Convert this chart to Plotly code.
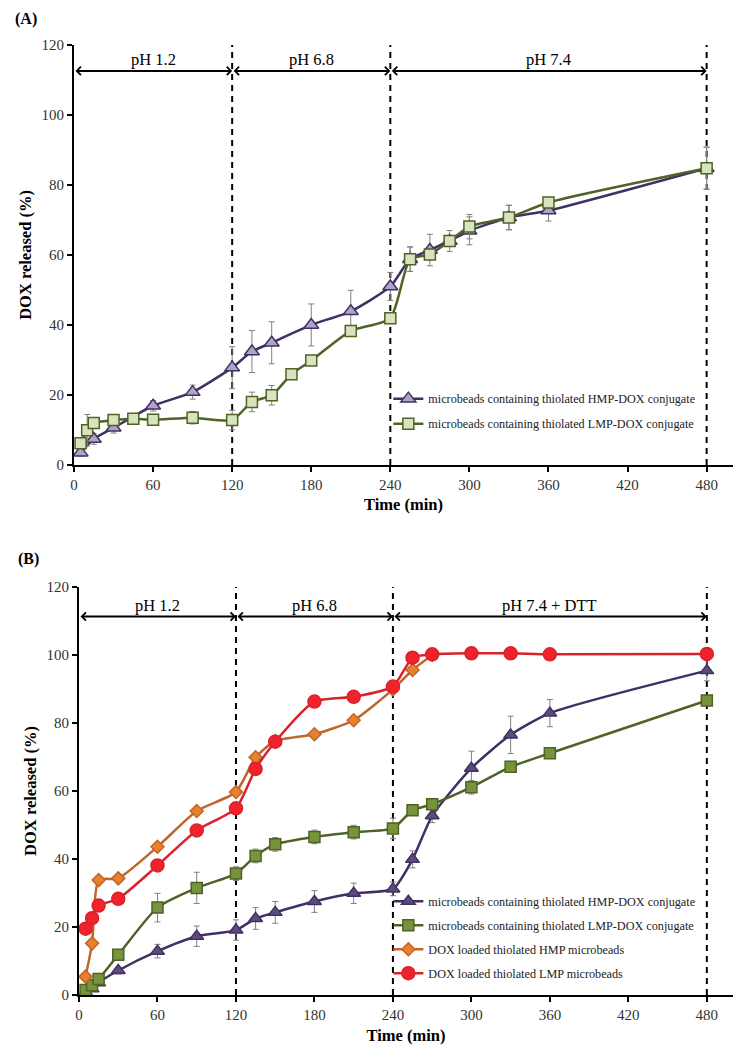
import plotly.graph_objects as go

# ---------------- data ----------------
# Panel A
t_A_hmp = [5, 15, 30, 60, 90, 120, 135, 150, 180, 210, 240, 255, 270, 285, 300, 330, 360, 480]
A_hmp = [3.5, 7.4, 10.6, 16.9, 20.8, 27.8, 32.4, 34.9, 40.0, 43.9, 51.0, 58.8, 61.4, 64.0, 66.9, 70.7, 72.7, 84.8]
A_hmp_err = [1, 1.5, 1.5, 1.5, 2, 6, 6, 6, 6, 6, 4, 3.5, 4.5, 3, 4, 3.5, 3, 6]

t_A_lmp = [5, 10, 15, 30, 45, 60, 90, 120, 135, 150, 165, 180, 210, 240, 255, 270, 285, 300, 330, 360, 480]
A_lmp = [6.2, 9.9, 12.0, 12.8, 13.2, 12.9, 13.5, 12.8, 18.0, 19.9, 25.9, 29.8, 38.3, 41.9, 58.8, 60.1, 64.0, 68.1, 70.7, 75.0, 84.8]
A_lmp_err = [1, 4.5, 1.5, 1, 1, 1, 1.8, 2.8, 2.8, 2.8, 1, 1, 1, 1, 3.5, 1.5, 1, 3.5, 3.5, 1, 6]

# Panel B
t_B = [5, 10, 15, 30, 60, 90, 120, 135, 150, 180, 210, 240, 255, 270, 300, 330, 360, 480]
B_hmp = [0.8, 1.8, 3.6, 7.2, 12.9, 17.3, 19.1, 22.5, 24.3, 27.5, 29.9, 31.2, 39.9, 52.7, 66.7, 76.5, 82.9, 95.4]
B_hmp_err = [0.5, 0.5, 0.8, 1, 2, 3, 3, 3.2, 3.2, 3.2, 3, 2, 2.5, 2, 5, 5.5, 4, 3]
B_lmp = [1.5, 2.9, 4.7, 11.8, 25.7, 31.5, 35.7, 40.9, 44.3, 46.5, 47.9, 49.0, 54.3, 56.1, 61.1, 67.1, 71.1, 86.6]
B_lmp_err = [0.5, 0.5, 1, 1, 4.2, 4.6, 2, 2, 2, 2, 2, 3, 1, 1, 2, 1.5, 1, 1.5]
t_B_dox_hmp = [5, 10, 15, 30, 60, 90, 120, 135, 150, 180, 210, 240, 255, 270]
B_dox_hmp = [5.4, 15.2, 33.8, 34.3, 43.6, 54.1, 59.7, 69.9, 74.7, 76.7, 80.8, 89.9, 95.6, 100.0]
B_dox_lmp = [19.5, 22.6, 26.3, 28.3, 38.1, 48.4, 54.9, 66.5, 74.5, 86.3, 87.7, 90.7, 99.2, 100.2, 100.5, 100.5, 100.2, 100.3]

names = [
    "microbeads containing thiolated HMP-DOX conjugate",
    "microbeads containing thiolated LMP-DOX conjugate",
    "DOX loaded thiolated HMP microbeads",
    "DOX loaded thiolated LMP microbeads",
]

phase_bounds = [0, 120, 240, 480]
phase_labels_A = ["pH 1.2", "pH 6.8", "pH 7.4"]
phase_labels_B = ["pH 1.2", "pH 6.8", "pH 7.4 + DTT"]
x_ticks = [0, 60, 120, 180, 240, 300, 360, 420, 480]

# ---------------- style ----------------
FONT = "Times New Roman, Liberation Serif, serif"
PURPLE_LINE = "#3F3163"
GREEN_LINE = "#4F6228"
ORANGE_LINE = "#C0652B"
RED_LINE = "#D8232B"
ERR = dict(type="data", thickness=1, width=3, color="#808080")

fig = go.Figure()


def add(x, y, err, name, xa, ya, legend, line_color, symbol, fill, size, group):
    kw = {}
    if err is not None:
        kw["error_y"] = dict(array=err, **ERR)
    fig.add_trace(go.Scatter(
        x=x, y=y, name=name, mode="lines+markers",
        xaxis=xa, yaxis=ya, legend=legend, legendgroup=group,
        line=dict(color=line_color, width=2.5, shape="spline", smoothing=0.6),
        marker=dict(symbol=symbol, size=size, color=fill,
                    line=dict(color=line_color, width=1.5)),
        **kw))


add(t_A_hmp, A_hmp, A_hmp_err, names[0], "x", "y", "legend", PURPLE_LINE, "triangle-up", "#B3A2C7", 13, "a1")
add(t_A_lmp, A_lmp, A_lmp_err, names[1], "x", "y", "legend", GREEN_LINE, "square", "#D7E4BD", 11, "a2")

add(t_B, B_hmp, B_hmp_err, names[0], "x2", "y2", "legend2", PURPLE_LINE, "triangle-up", "#604A7B", 12, "b1")
add(t_B, B_lmp, B_lmp_err, names[1], "x2", "y2", "legend2", GREEN_LINE, "square", "#77933C", 11, "b2")
add(t_B_dox_hmp, B_dox_hmp, None, names[2], "x2", "y2", "legend2", ORANGE_LINE, "diamond", "#E8812E", 10, "b3")
add(t_B, B_dox_lmp, None, names[3], "x2", "y2", "legend2", RED_LINE, "circle", "#F0222B", 13, "b4")

# ---------------- phase markers ----------------
shapes = []
annotations = []
for xr, yr, labels, arrow_y, text_y in [("x", "y", phase_labels_A, 112.6, 116.0),
                                        ("x2", "y2", phase_labels_B, 111.3, 114.5)]:
    for b in phase_bounds[1:]:
        shapes.append(dict(type="line", xref=xr, yref=yr, x0=b, x1=b, y0=0, y1=120,
                           line=dict(color="black", width=2, dash="6px,5px"), layer="below"))
    for i, lab in enumerate(labels):
        x0, x1 = phase_bounds[i], phase_bounds[i + 1]
        annotations.append(dict(xref=xr, yref=yr, axref=xr, ayref=yr,
                                x=x1, y=arrow_y, ax=x0, ay=arrow_y, text="",
                                showarrow=True, arrowside="end+start",
                                arrowhead=4, startarrowhead=4,
                                arrowsize=0.8, startarrowsize=0.8,
                                arrowwidth=2, arrowcolor="black",
                                standoff=0, startstandoff=0))
        annotations.append(dict(xref=xr, yref=yr, x=(x0 + x1) / 2, y=text_y,
                                text=lab, showarrow=False,
                                font=dict(family=FONT, size=16.5, color="black")))

annotations.append(dict(xref="paper", yref="paper", x=-0.092, y=1.027, xanchor="left",
                        yanchor="middle", text="<b>(A)</b>", showarrow=False,
                        font=dict(family=FONT, size=16, color="black")))
annotations.append(dict(xref="paper", yref="paper", x=-0.088, y=0.459, xanchor="left",
                        yanchor="middle", text="<b>(B)</b>", showarrow=False,
                        font=dict(family=FONT, size=16, color="black")))

# ---------------- axes ----------------
def xaxis(domain, anchor):
    return dict(domain=domain, anchor=anchor, range=[0, 500], tickvals=x_ticks,
                ticks="outside", ticklen=5, tickwidth=1.5, tickcolor="black",
                showline=True, linecolor="black", linewidth=2, showgrid=False,
                zeroline=False, automargin=False,
                tickfont=dict(family=FONT, size=15, color="#333"),
                title=dict(text="<b>Time (min)</b>", standoff=7,
                           font=dict(family=FONT, size=16.5, color="black")))


def yaxis(domain, anchor):
    return dict(domain=domain, anchor=anchor, range=[0, 120], dtick=20,
                ticks="outside", ticklen=5, tickwidth=1.5, tickcolor="black",
                showline=True, linecolor="black", linewidth=2, showgrid=False,
                zeroline=False, automargin=False,
                tickfont=dict(family=FONT, size=15, color="#333"),
                title=dict(text="<b>DOX released (%)</b>", standoff=6,
                           font=dict(family=FONT, size=16.5, color="black")))


legend_font = dict(family=FONT, size=12.2, color="#222")

# page has an 8px body margin, so the margins are offset to keep the plot areas in place
fig.update_layout(
    width=752, height=1052,
    margin=dict(l=66, r=27, t=37, b=65),
    paper_bgcolor="white", plot_bgcolor="white",
    xaxis=xaxis([0, 1], "y"),
    yaxis=yaxis([0.558, 1.0], "x"),
    xaxis2=xaxis([0.0076, 1], "y2"),
    yaxis2=yaxis([0.0, 0.4295], "x2"),
    legend=dict(x=0.477, y=0.643, xanchor="left", yanchor="top", font=legend_font,
                bgcolor="rgba(0,0,0,0)", itemwidth=30, tracegroupgap=6,
                traceorder="grouped"),
    legend2=dict(x=0.477, y=0.114, xanchor="left", yanchor="top", font=legend_font,
                 bgcolor="rgba(0,0,0,0)", itemwidth=30, tracegroupgap=5,
                 traceorder="grouped"),
    shapes=shapes,
    annotations=annotations,
    showlegend=True,
)

fig.write_html("out.html")
